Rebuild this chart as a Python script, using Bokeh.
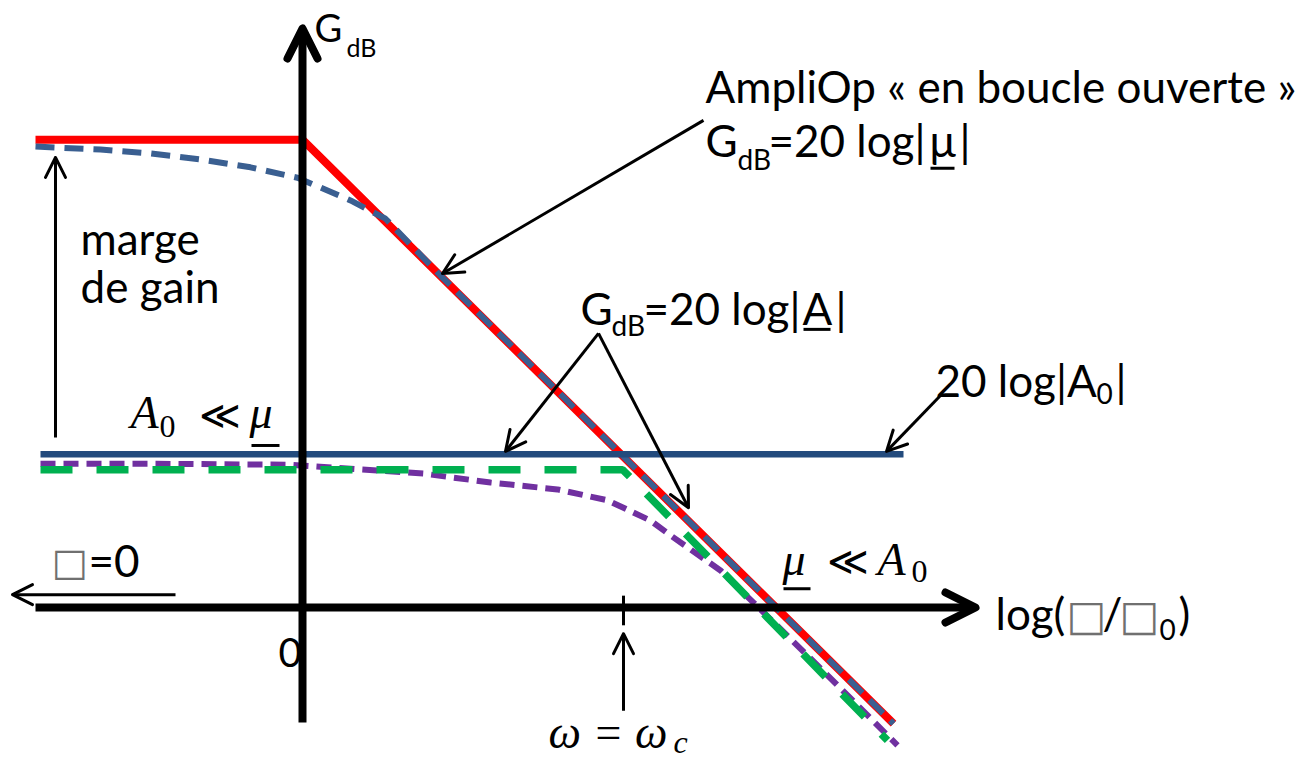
from bokeh.plotting import figure
from bokeh.models import Range1d, Arrow, OpenHead
from bokeh.core.properties import value
from bokeh.embed import file_html
from bokeh.resources import INLINE

# ---------------- data (x: decades of log(w/w0), y: gain in dB) ----------------
red_x = [-2.67, 0.0, 5.91]
red_y = [94.7, 94.7, -23.5]

mu_x = [-2.67, -2.02, -1.52, -1.02, -0.52, -0.05, 0.48, 0.83, 1.38, 5.91]
mu_y = [93.3, 92.7, 91.9, 90.7, 89.1, 87.0, 82.4, 78.7, 67.2, -23.5]

a0_x = [-2.62, 6.01]
a0_y = [31.0, 31.0]

green_x = [-2.62, 3.20, 3.31, 5.85]
green_y = [27.9, 27.9, 25.7, -26.9]

purple_x = [-2.62, -1.52, -0.12, 1.21, 1.88, 2.55, 3.05, 3.48, 3.68, 4.18, 4.51, 5.18, 5.95]
purple_y = [29.1, 29.1, 28.9, 27.1, 25.3, 23.9, 21.7, 17.6, 14.6, 7.5, 1.0, -12.3, -27.9]

wc = 3.21          # crossing frequency (decades)
x_axis = [-2.67, 6.73]
y_axis = [-23.3, 117.2]

# ---------------- figure ----------------
YPX = 4.94   # pixels per dB
p = figure(width=1313, height=761, x_range=Range1d(-3.02, 10.11), y_range=Range1d(-31.17, 122.87),
           output_backend="svg", toolbar_location=None, min_border=0)
p.axis.visible = False
p.grid.visible = False
p.outline_line_color = None
p.background_fill_color = "white"

# axes
p.add_layout(Arrow(x_start=x_axis[0], y_start=0, x_end=x_axis[1], y_end=0, line_width=8, line_color="black",
                   end=OpenHead(size=30, line_width=8, line_color="black", line_join="round", line_cap="round")))
p.add_layout(Arrow(x_start=0, y_start=y_axis[0], x_end=0, y_end=y_axis[1], line_width=8, line_color="black",
                   end=OpenHead(size=30, line_width=8, line_color="black", line_join="round", line_cap="round")))
p.segment(x0=[wc], y0=[2.4], x1=[wc], y1=[-3.6], line_width=3, line_color="black")

# curves
p.line(red_x, red_y, line_color="#FF0000", line_width=8)
p.line(mu_x, mu_y, line_color="#3A5F91", line_width=6, line_dash="19 10")
p.line(a0_x, a0_y, line_color="#234B7D", line_width=6.5)
p.line(purple_x, purple_y, line_color="#7030A0", line_width=6, line_dash="15 8")
p.line(green_x, green_y, line_color="#00B050", line_width=7.5, line_dash="32 24")


def arrow(x0, y0, x1, y1):
    p.add_layout(Arrow(x_start=x0, y_start=y0, x_end=x1, y_end=y1, line_width=3, line_color="black",
                       end=OpenHead(size=20, line_width=3, line_color="black", line_join="round", line_cap="round")))


arrow(-2.47, 34.4, -2.47, 91.1)      # marge de gain
arrow(wc, -20.9, wc, -5.3)           # w = wc
arrow(-1.27, 2.6, -2.90, 2.6)        # w = 0
arrow(4.01, 98.6, 1.40, 67.6)        # AmpliOp
arrow(2.96, 55.5, 2.03, 31.6)        # |A| left
arrow(2.96, 55.5, 3.86, 20.2)        # |A| right
arrow(6.38, 42.9, 5.84, 31.6)        # 20 log|A0|


def lbl(x, y, s, size=44, font="Lato", style="normal", color="black"):
    # lift by the font descent so that y is the visual baseline
    y = y + 0.28 * size / YPX
    p.text(x=[x], y=[y], text=[s], text_font=value(font), text_font_size=f"{size}px",
           text_font_style=style, text_align="left", text_baseline="alphabetic", text_color=color)


def uline(x0, x1, y):
    p.segment(x0=[x0], y0=[y], x1=[x1], y1=[y], line_width=3, line_color="black")


BOX = "#707070"

# axis labels
lbl(0.12, 115.4, "G", 38)
lbl(0.44, 112.0, "dB", 25)
lbl(-0.24, -11.3, "0", 40)
lbl(6.93, -3.6, "log(", 44)
lbl(7.64, -4.0, "\u25A1", 42, "DejaVu Sans", color=BOX)
lbl(8.00, -3.6, "/", 44)
lbl(8.17, -4.0, "\u25A1", 42, "DejaVu Sans", color=BOX)
lbl(8.57, -6.1, "0", 28)
lbl(8.76, -3.6, ")", 44)

# annotations
lbl(4.03, 103.0, "AmpliOp « en boucle ouverte »", 44)
lbl(4.03, 92.1, "G", 44)
lbl(4.35, 89.1, "dB", 28)
lbl(4.66, 92.1, "=20 log|", 44)
lbl(6.27, 92.1, "\u03bc", 44)
lbl(6.57, 92.1, "|", 44)
uline(6.28, 6.52, 88.9)

lbl(2.78, 58.1, "G", 44)
lbl(3.09, 55.5, "dB", 28)
lbl(3.41, 58.1, "=20 log|", 44)
lbl(5.00, 58.1, "A", 44)
lbl(5.33, 58.1, "|", 44)
uline(5.01, 5.28, 56.3)

lbl(6.33, 43.5, "20 log|A", 44)
lbl(7.94, 41.7, "0", 28)
lbl(8.13, 43.5, "|", 44)

lbl(-2.22, 72.3, "marge", 44)
lbl(-2.22, 62.5, "de gain", 44)

lbl(-2.51, 7.1, "\u25A1", 38, "DejaVu Sans", color=BOX)
lbl(-2.14, 7.1, "=0", 44)

# math labels
lbl(-1.72, 36.8, "A", 46, "Liberation Serif", "italic")
lbl(-1.43, 34.8, "0", 32, "Liberation Serif")
lbl(-1.04, 36.8, "\u226A", 40, "DejaVu Serif")
lbl(-0.53, 36.8, "\u03bc", 46, "Liberation Serif", "italic")
uline(-0.51, -0.23, 32.8)

lbl(4.80, 7.1, "\u03bc", 46, "Liberation Serif", "italic")
uline(4.81, 5.08, 3.8)
lbl(5.24, 7.1, "\u226A", 40, "DejaVu Serif")
lbl(5.75, 7.1, "A", 46, "Liberation Serif", "italic")
lbl(6.09, 5.5, "0", 32, "Liberation Serif")

lbl(2.46, -28.0, "\u03c9 = \u03c9", 46, "Liberation Serif", "italic")
lbl(3.71, -29.0, "c", 32, "Liberation Serif", "italic")

open("out.html", "w").write(file_html(p, INLINE))
